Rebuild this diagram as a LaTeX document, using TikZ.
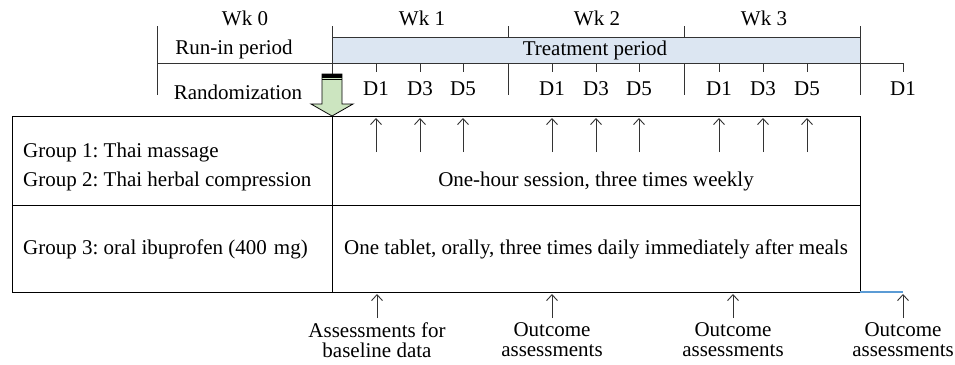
\documentclass[tikz,border=0pt]{standalone}
\usepackage{fontspec}
\setmainfont{Liberation Serif}
\usetikzlibrary{arrows.meta}
\definecolor{tgray}{HTML}{333333}
\definecolor{tblue}{HTML}{DCE6F2}
\definecolor{tgreen}{HTML}{CCE5C0}
\definecolor{lblue}{HTML}{5B9BD5}
\tikzset{
  lbl/.style={font=\fontsize{21}{21}\selectfont, inner sep=0pt, text=black},
  tline/.style={draw=tgray, line width=1pt},
  bline/.style={draw=black, line width=1pt},
  uparrow/.style={draw=tgray, line width=0.9pt, -{Straight Barb[length=6pt,width=11pt,line width=0.9pt]}},
}
\frenchspacing
\begin{document}
\begin{tikzpicture}[x=1pt,y=-1pt]
\useasboundingbox (0,0) rectangle (955,364);
% week labels
\node[lbl] (wk0) at (245,18) {Wk 0};
\node[lbl] (wk1) at (422,18) {Wk 1};
\node[lbl] (wk2) at (597,18) {Wk 2};
\node[lbl] (wk3) at (764,18) {Wk 3};
% treatment box
\node[draw=tgray, line width=1pt, fill=tblue, minimum width=528pt, minimum height=26pt, anchor=north west, inner sep=0pt] (treat) at (332,37) {};
\node[lbl] (treattxt) at (595,50.5) {Treatment period};
\node[lbl] (runin) at (234,49) {Run-in period};
\node[lbl] (rand) at (238,92) {Randomization};
% timeline
\path[tline] (157,26) -- (157,95);
\path[tline] (157,63) -- (903,63);
\path[tline] (332,26) -- (332,74);
\foreach \x in {508,684} {\path[tline] (\x,26) -- (\x,37); \path[tline] (\x,63) -- (\x,95);}
\path[tline] (860,26) -- (860,95);
\foreach \x/\d [count=\i] in {376/D1,420/D3,463/D5,552/D1,596/D3,639/D5,719/D1,763/D3,807/D5,903/D1} {
  \path[tline] (\x,63) -- (\x,72);
  \node[lbl] (d\i) at (\x,89) {\d};
}
% green arrow
\path[draw=black, line width=0.8pt, fill=tgreen] (322,74) -- (342,74) -- (342,104) -- (353,104) -- (332,116) -- (311,104) -- (322,104) -- cycle;
\fill[black] (322,74) rectangle (342,77.5);
\path[draw=black, line width=0.8pt] (322,79.5) -- (342,79.5);
% main box
\node[draw=black, line width=1.1pt, minimum width=848pt, minimum height=176pt, anchor=north west, inner sep=0pt] (main) at (12,116) {};
\path[bline] (12,205) -- (860,205);
\path[bline] (332,116) -- (332,292);
\path[draw=lblue, line width=1.2pt] (860,292) -- (903,292);
\node[lbl, anchor=west] (g1) at (23,152) {Group 1: Thai massage};
\node[lbl, anchor=west] (g2) at (23,181) {Group 2: Thai herbal compression};
\node[lbl, anchor=west] (g3) at (23,249) {Group 3: oral ibuprofen (400\,\,mg)};
\node[lbl] (sess) at (596,181) {One-hour session, three times weekly};
\node[lbl] (tab) at (596,249) {One tablet, orally, three times daily immediately after meals};
% session arrows
\foreach \x [count=\i] in {376,420,463,552,596,639,719,763,807} {
  \coordinate (sa\i) at (\x,152);
  \coordinate (sb\i) at (\x,118);
  \draw[uparrow] (sa\i) -- (sb\i);
}
% assessment arrows
\node[lbl, align=center, font=\fontsize{21}{20}\selectfont] (as1) at (377,340) {Assessments for\\baseline data};
\node[lbl, align=center, font=\fontsize{21}{20}\selectfont] (as2) at (552,340) {Outcome\\assessments};
\node[lbl, align=center, font=\fontsize{21}{20}\selectfont] (as3) at (733,340) {Outcome\\assessments};
\node[lbl, align=center, font=\fontsize{21}{20}\selectfont] (as4) at (903,340) {Outcome\\assessments};
\foreach \x [count=\i] in {377,552,733,903} {
  \coordinate (aa\i) at (\x,318);
  \coordinate (ab\i) at (\x,294);
  \draw[uparrow] (aa\i) -- (ab\i);
}
\end{tikzpicture}
\end{document}
